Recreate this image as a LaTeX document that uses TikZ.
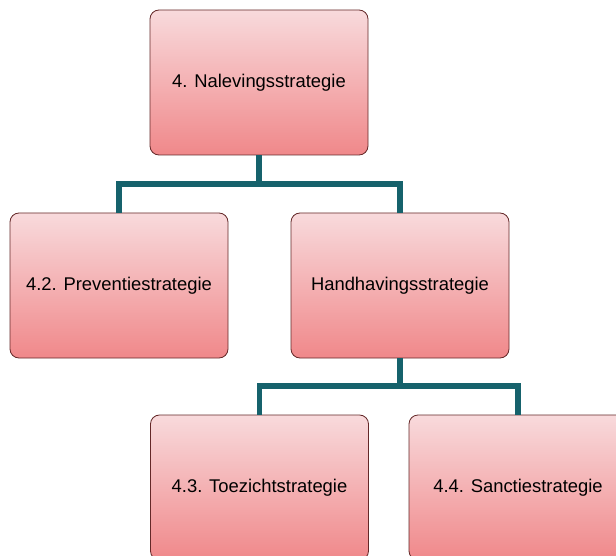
\documentclass[tikz,border=0pt]{standalone}
\usepackage{fontspec}
\setmainfont{Liberation Sans}
\definecolor{boxtop}{RGB}{248,218,220}
\definecolor{boxbot}{RGB}{240,136,138}
\definecolor{boxedge}{RGB}{100,40,40}
\definecolor{conncol}{RGB}{22,98,108}
\tikzset{
  orgbox/.style={draw=boxedge, line width=0.8pt, rounded corners=9pt,
    top color=boxtop, bottom color=boxbot, minimum width=218pt, minimum height=145pt,
    inner sep=0pt, font=\fontsize{18.4pt}{22pt}\selectfont, text=black},
  conn/.style={draw=conncol, line width=5.5pt}
}
\begin{document}
\begin{tikzpicture}[x=1pt,y=-1pt]
\useasboundingbox (0,0) rectangle (616,556);
\node[orgbox] (top) at (259,82.5) {4. Nalevingsstrategie};
\node[orgbox] (prev) at (119,285.5) {4.2. Preventiestrategie};
\node[orgbox] (hand) at (400,285.5) {Handhavingsstrategie};
\node[orgbox] (toez) at (259.5,487.5) {4.3. Toezichtstrategie};
\node[orgbox] (sanc) at (518,487.5) {4.4. Sanctiestrategie};
\coordinate (j1) at (259,184);
\coordinate (j2) at (400,386);
\draw[conn] (top.south) -- (j1);
\draw[conn] (j1) -| (prev.north);
\draw[conn] (j1) -| (hand.north);
\draw[conn] (hand.south) -- (j2);
\draw[conn] (j2) -| (toez.north);
\draw[conn] (j2) -| (sanc.north);
\end{tikzpicture}
\end{document}
